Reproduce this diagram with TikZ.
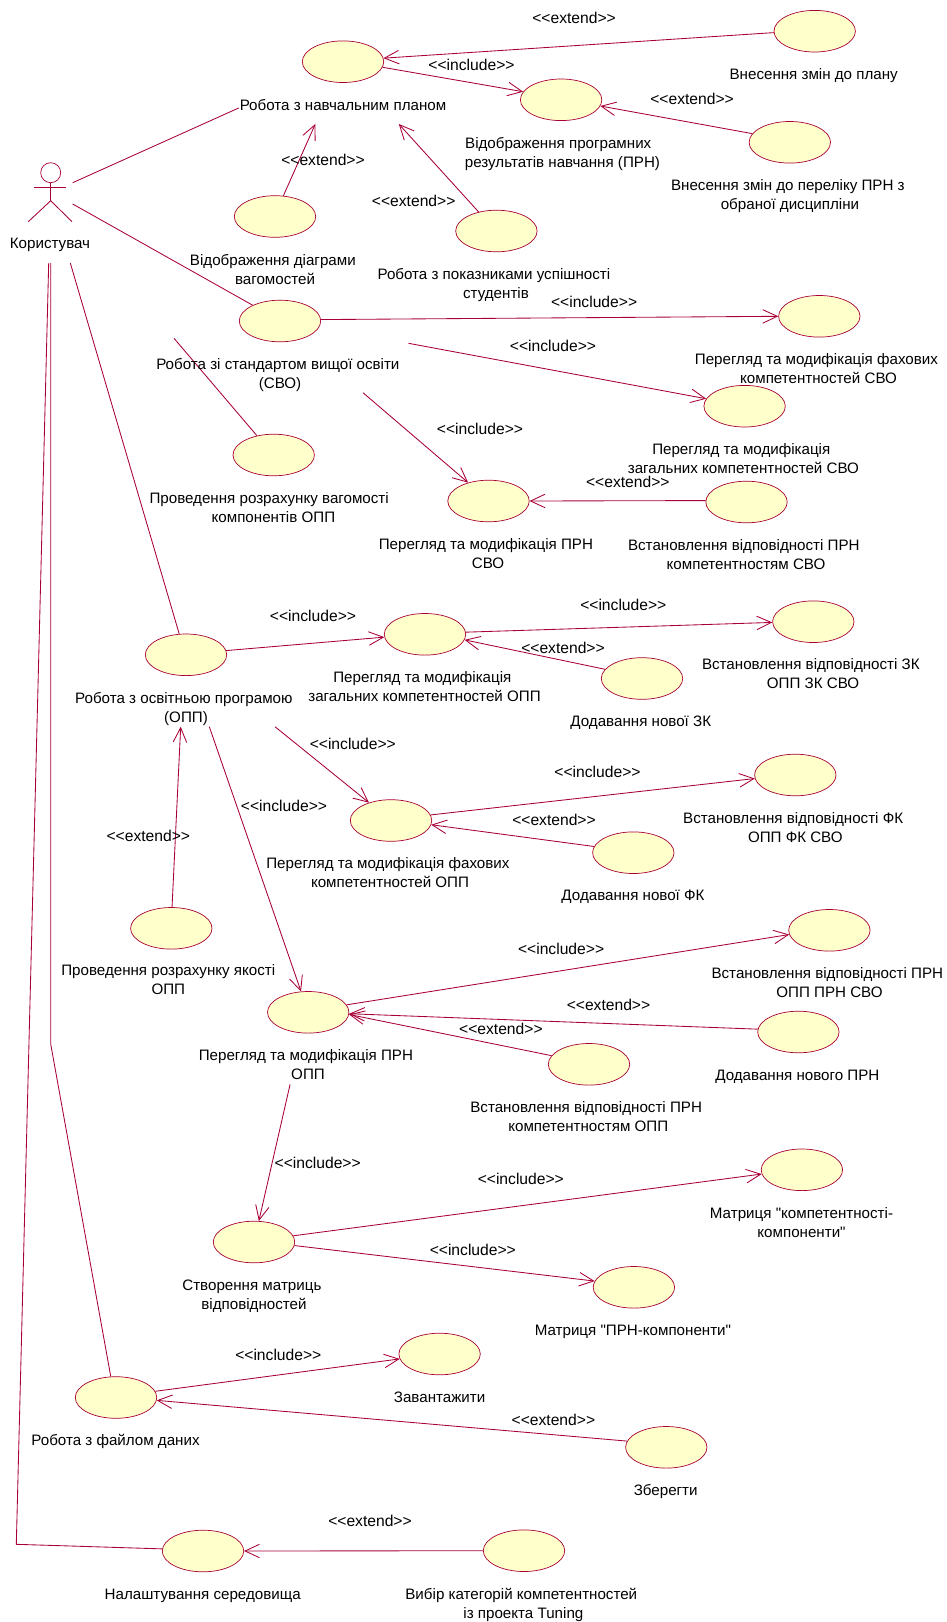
\documentclass[tikz,border=0pt]{standalone}
\usepackage{fontspec}
\newfontfamily\lblfont{Liberation Sans}
\usetikzlibrary{shapes.geometric,arrows.meta}
\definecolor{roseline}{HTML}{A80036}
\definecolor{rosefill}{HTML}{FFFFCB}
\tikzset{
  usecase/.style={ellipse,draw=roseline,fill=rosefill,line width=0.7bp,minimum width=81.4bp,minimum height=41.6bp,inner sep=0pt},
  lbl/.style={align=center,inner sep=0pt,text=black,font=\lblfont\fontsize{15.2}{19}\selectfont,execute at begin node=\strut,execute at end node=\strut,yshift=-1.8bp},
  lbltwo/.style={lbl,yshift=-1bp},
  stereo/.style={lbl,yshift=0.6bp,font=\lblfont\fontsize{15.7}{19}\selectfont},
  assoc/.style={draw=roseline,line width=0.85bp},
  dep/.style={draw=roseline,line width=0.85bp,-{Straight Barb[length=14.5bp,width=13.5bp,line width=0.85bp]}},
  actorpart/.style={draw=roseline,line width=0.85bp}
}
\newcommand{\inc}{<{}<include>{}>}
\newcommand{\exd}{<{}<extend>{}>}
\newcommand{\ts}{\hspace*{4.25bp}}
\begin{document}
\begin{tikzpicture}[x=1bp,y=-1bp]
\useasboundingbox (0,0) rectangle (946,1622);
\fill[white] (0,0) rectangle (946,1622);

% use cases
\node[usecase] (plan) at (343,61.7) {};
\node[usecase] (zminplan) at (814.7,31.2) {};
\node[usecase] (prn) at (561.1,99.8) {};
\node[usecase] (zminprn) at (789.8,142.3) {};
\node[usecase] (diagram) at (275,216.5) {};
\node[usecase] (uspih) at (496.4,231) {};
\node[usecase] (svo) at (280,321) {};
\node[usecase] (fk) at (819.3,316.3) {};
\node[usecase] (zk) at (744.6,406.2) {};
\node[usecase] (vag) at (273.7,455) {};
\node[usecase] (prnsvo) at (488.5,501) {};
\node[usecase] (vidp) at (746.5,502) {};
\node[usecase] (opp) at (186,654.8) {};
\node[usecase] (zkopp) at (425,634.3) {};
\node[usecase] (vidpzk) at (813.3,621.7) {};
\node[usecase] (novazk) at (642,678.5) {};
\node[usecase] (fkopp) at (391,820.5) {};
\node[usecase] (vidpfk) at (795.3,775) {};
\node[usecase] (novafk) at (633.3,852.7) {};
\node[usecase] (yakist) at (171.3,928.3) {};
\node[usecase] (prnopp) at (308.2,1012.3) {};
\node[usecase] (vidpprn) at (829.4,930.3) {};
\node[usecase] (novyiprn) at (798.4,1032) {};
\node[usecase] (vidpkomp) at (589,1064.3) {};
\node[usecase] (matr) at (254,1242) {};
\node[usecase] (mk) at (801.9,1169.8) {};
\node[usecase] (mp) at (633.9,1287.3) {};
\node[usecase] (file) at (116,1397.5) {};
\node[usecase] (zav) at (439.6,1354) {};
\node[usecase] (zber) at (666.3,1447.3) {};
\node[usecase] (nal) at (203,1551) {};
\node[usecase] (vybir) at (524,1550.7) {};

% actor
\node[circle,draw=roseline,line width=0.7bp,minimum size=20bp,inner sep=0pt] (head) at (50.7,172.7) {};
\coordinate (armL) at (34.3,187.3);
\coordinate (armR) at (66,187.3);
\coordinate (hip) at (50.7,200.7);
\coordinate (legL) at (28.3,221.7);
\coordinate (legR) at (72,221.7);
\draw[actorpart] (head.south) -- (hip);
\draw[actorpart] (armL) -- (armR);
\draw[actorpart] (legL) -- (hip) -- (legR);

% free connector ends
\coordinate (a1) at (72.7,182.7);
\coordinate (a2) at (72.7,204);
\coordinate (a3) at (70.3,263);
\coordinate (a4) at (50.7,263);
\coordinate (a5) at (48.7,263);
\coordinate (bend4) at (50.7,1044);
\coordinate (bend5) at (16.3,1544.3);
\coordinate (planW) at (238.7,108);
\coordinate (planA) at (315.3,124);
\coordinate (planB) at (398.8,124);
\coordinate (svoA) at (408.5,343.3);
\coordinate (svoB) at (363,392.7);
\coordinate (svoC) at (174,338.3);
\coordinate (oppA) at (275,726.7);
\coordinate (oppB) at (180.7,726.7);
\coordinate (oppC) at (209.3,726.7);
\coordinate (prnoppA) at (290.1,1084.3);

% connectors
\draw[assoc] (a1) -- (planW);
\draw[assoc] (a2) -- (svo.150.2);
\draw[assoc] (a3) -- (opp.108.6);
\draw[assoc] (a4) -- (bend4) -- (file.104.3);
\draw[assoc] (a5) -- (bend5) -- (nal.177);
\draw[dep] (zminplan.182) -- (plan.5);
\draw[dep] (plan.-8.4) -- (prn.168.7);
\draw[dep] (zminprn.167) -- (prn.-9.6);
\draw[dep] (diagram.68) -- (planA);
\draw[dep] (uspih.133.7) -- (planB);
\draw[dep] (svo.2.3) -- (fk.180);
\draw[dep] (svoA) -- (zk.169);
\draw[dep] (svoB) -- (prnsvo.138.5);
\draw[assoc] (vag.131.8) -- (svoC);
\draw[dep] (vidp.178) -- (prnsvo.0);
\draw[dep] (opp.6.4) -- (zkopp.184.3);
\draw[dep] (zkopp.3.6) -- (vidpzk.181);
\draw[dep] (novazk.166.9) -- (zkopp.-8.9);
\draw[dep] (oppA) -- (fkopp.141.6);
\draw[dep] (fkopp.8.7) -- (vidpfk.185.7);
\draw[dep] (novafk.171.7) -- (fkopp.-6.4);
\draw[dep] (yakist.88) -- (oppB);
\draw[dep] (oppC) -- (prnopp.109);
\draw[dep] (prnopp.11) -- (vidpprn.186.6);
\draw[dep] (novyiprn.176.3) -- (prnopp.-2);
\draw[dep] (vidpkomp.167.8) -- (prnopp.-3);
\draw[dep] (prnoppA) -- (matr.77.5);
\draw[dep] (matr.9.7) -- (mk.186.3);
\draw[dep] (matr.-5.2) -- (mp.171.7);
\draw[dep] (file.9) -- (zav.187);
\draw[dep] (zber.171.9) -- (file.-4.5);
\draw[dep] (vybir.180) -- (nal.0);

% use case names
\node[lbl] (tactor) at (50,242.7) {Користувач};
\node[lbl] (tplan) at (343,105) {Робота з навчальним планом};
\node[lbl] (tzminplan) at (813.7,74) {Внесення змін до плану};
\node[lbltwo] (tprn) at (562.5,152.8) {Відображення програмних\ts\ts\\результатів навчання (ПРН)};
\node[lbltwo] (tzminprn) at (790,194.5) {Внесення змін до переліку ПРН з\ts\\обраної дисципліни};
\node[lbltwo] (tdiagram) at (275,269.5) {Відображення діаграми\ts\\вагомостей};
\node[lbltwo] (tuspih) at (496,283.5) {Робота з показниками успішності\ts\\студентів};
\node[lbltwo] (tsvo) at (280,373.3) {Робота зі стандартом вищої освіти\ts\\(СВО)};
\node[lbltwo] (tfk) at (818.5,368.7) {Перегляд та модифікація фахових\ts\\компетентностей СВО};
\node[lbltwo] (tzk) at (743.4,458.7) {Перегляд та модифікація\ts\\загальних компетентностей СВО};
\node[lbltwo] (tvag) at (273.4,507.8) {Проведення розрахунку вагомості\ts\ts\\компонентів ОПП};
\node[lbltwo] (tprnsvo) at (488,553.5) {Перегляд та модифікація ПРН\ts\\СВО};
\node[lbltwo] (tvidp) at (746,554.5) {Встановлення відповідності ПРН\ts\\компетентностям СВО};
\node[lbltwo] (topp) at (186,707.5) {Робота з освітньою програмою\ts\\(ОПП)};
\node[lbltwo] (tzkopp) at (424.5,686.5) {Перегляд та модифікація\ts\\загальних компетентностей ОПП};
\node[lbltwo] (tfkopp) at (390,873) {Перегляд та модифікація фахових\ts\\компетентностей ОПП};
\node[lbltwo] (tyakist) at (168.3,980) {Проведення розрахунку якості\\ОПП};
\node[lbltwo] (tvidpzk) at (813,673.3) {Встановлення відповідності ЗК\ts\\ОПП ЗК СВО};
\node[lbl] (tnovazk) at (640.8,721) {Додавання нової ЗК};
\node[lbltwo] (tvidpfk) at (795.3,827.2) {Встановлення відповідності ФК\ts\\ОПП ФК СВО};
\node[lbl] (tnovafk) at (633,895) {Додавання нової ФК};
\node[lbltwo] (tvidpprn) at (829.5,982.2) {Встановлення відповідності ПРН\ts\\ОПП ПРН СВО};
\node[lbl] (tnovyi) at (797.4,1075) {Додавання нового ПРН};
\node[lbltwo] (tprnopp) at (308,1064.3) {Перегляд та модифікація ПРН\ts\\ОПП};
\node[lbltwo] (tvidpkomp) at (588.3,1116.3) {Встановлення відповідності ПРН\ts\\компетентностям ОПП};
\node[lbltwo] (tmk) at (801.5,1222.5) {Матриця "компетентності-\\компоненти"};
\node[lbltwo] (tmatr) at (254,1294.5) {Створення матриць\ts\\відповідностей};
\node[lbl] (tmp) at (632.9,1330) {Матриця "ПРН-компоненти"};
\node[lbl] (tzav) at (439.6,1397) {Завантажити};
\node[lbl] (tzber) at (665.7,1490) {Зберегти};
\node[lbl] (tfile) at (115.5,1440) {Робота з файлом даних};
\node[lbl] (tnal) at (202.7,1594) {Налаштування середовища};
\node[lbltwo] (tvybir) at (523.4,1603.7) {Вибір категорій компетентностей\ts\\із проекта Tuning};

% connector labels
\node[stereo] (s1) at (574.1,18.3) {\exd};
\node[stereo] (s2) at (471.5,65.3) {\inc};
\node[stereo] (s3) at (692.1,99.3) {\exd};
\node[stereo] (s4) at (323,160.3) {\exd};
\node[stereo] (s5) at (413.7,201.3) {\exd};
\node[stereo] (s6) at (594.1,302.3) {\inc};
\node[stereo] (s7) at (553,346.3) {\inc};
\node[stereo] (s8) at (480,429.3) {\inc};
\node[stereo] (s9) at (627.8,482.7) {\exd};
\node[stereo] (s10) at (313,617) {\inc};
\node[stereo] (s11) at (352.8,744.3) {\inc};
\node[stereo] (s12) at (284,806.3) {\inc};
\node[stereo] (s13) at (148.3,836.3) {\exd};
\node[stereo] (s14) at (623.3,606) {\inc};
\node[stereo] (s15) at (563,648.3) {\exd};
\node[stereo] (s16) at (597.5,772.3) {\inc};
\node[stereo] (s17) at (554,820.3) {\exd};
\node[stereo] (s18) at (561.1,949.3) {\inc};
\node[stereo] (s19) at (608.5,1005.3) {\exd};
\node[stereo] (s20) at (500.9,1029.3) {\exd};
\node[stereo] (s21) at (317.7,1163.3) {\inc};
\node[stereo] (s22) at (520.8,1179.3) {\inc};
\node[stereo] (s23) at (472.8,1250.3) {\inc};
\node[stereo] (s24) at (278.3,1355.3) {\inc};
\node[stereo] (s25) at (553.4,1420.3) {\exd};
\node[stereo] (s26) at (370,1521.3) {\exd};
\end{tikzpicture}
\end{document}
